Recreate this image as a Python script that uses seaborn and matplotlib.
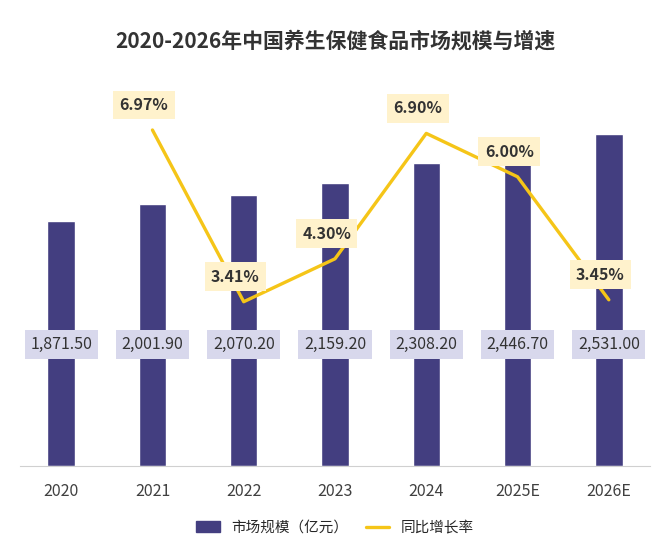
import pandas as pd
import seaborn as sns
import matplotlib.pyplot as plt
from matplotlib.patches import Patch
from matplotlib.lines import Line2D

years = ["2020", "2021", "2022", "2023", "2024", "2025E", "2026E"]
market = [1871.50, 2001.90, 2070.20, 2159.20, 2308.20, 2446.70, 2531.00]
growth = [None, 6.97, 3.41, 4.30, 6.90, 6.00, 3.45]

sns.set_style("white")
plt.rcParams['font.family'] = ['Noto Sans CJK SC', 'DejaVu Sans']

df = pd.DataFrame({"year": years, "market": market, "growth": growth})

fig = plt.figure(figsize=(6.7, 5.59), dpi=100)
ax = fig.add_axes([0.03, 0.166, 0.94, 0.73])
sns.barplot(data=df, x="year", y="market", color="#433e80", width=0.3, ax=ax, saturation=1)
ax.set_ylim(0, 3110)
ax.set_xlim(-0.45, 6.45)
ax.set_yticks([])
ax.set_xlabel("")
ax.set_ylabel("")
for s in ["top", "right", "left"]:
    ax.spines[s].set_visible(False)
ax.spines["bottom"].set_color("#d0d0d0")
ax.tick_params(axis="x", length=0, labelsize=11.5, colors="#404040", pad=12)
for t in ax.get_xticklabels():
    t.set_fontweight("medium")

for i, v in enumerate(market):
    ax.text(i, 928, f"{v:,.2f}", ha="center", va="center", fontsize=11.5, color="#333333",
            bbox=dict(boxstyle="square,pad=0.35", fc="#d8d8ec", ec="none"))

ax2 = ax.twinx()
sub = df.dropna()
ax2.plot(sub.index, sub["growth"], color="#f5c518", lw=2.4)
ax2.set_ylim(0, 8.46)
ax2.set_yticks([])
for s in ax2.spines.values():
    s.set_visible(False)
for i, g in sub["growth"].items():
    ax2.annotate(f"{g:.2f}%", xy=(i, g), xytext=(-6, 18), textcoords="offset points",
                 ha="center", va="center", fontsize=11.5, fontweight="bold", color="#333333",
                 bbox=dict(boxstyle="square,pad=0.4", fc="#fff2cc", ec="none"))

fig.suptitle("2020-2026年中国养生保健食品市场规模与增速", fontsize=15, fontweight="bold",
             color="#333333", y=0.945)
handles = [Patch(color="#433e80", label="市场规模（亿元）"),
           Line2D([0], [0], color="#f5c518", lw=2.4, label="同比增长率")]
fig.legend(handles=handles, loc="lower center", ncol=2, frameon=False, fontsize=10.5,
           bbox_to_anchor=(0.5, 0.02), handlelength=1.6, columnspacing=1.2)
fig.savefig("out.png")
